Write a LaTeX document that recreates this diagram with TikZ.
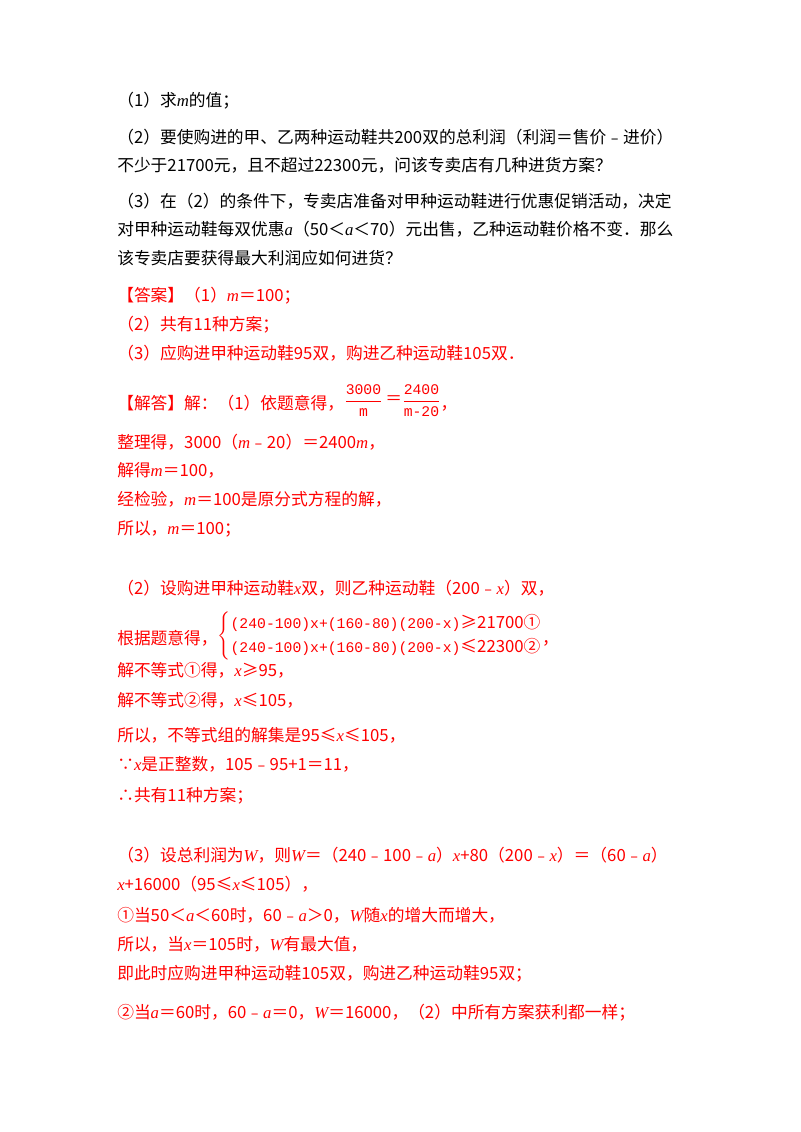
\documentclass[tikz,border=0pt]{standalone}
\usepackage{amsmath}
\usepackage{fontspec}
\setmainfont{Liberation Serif}
\newfontfamily\cjk{Noto Sans CJK SC}
\newfontfamily\mono{Liberation Mono}
\newcommand{\vr}[1]{{\rmfamily\itshape #1}}
\newcommand{\sysfont}{\mono\fontsize{11pt}{13pt}\selectfont}
\definecolor{ansred}{RGB}{255,0,0}
\tikzset{qline/.style={
  anchor=base west,
  inner sep=0pt,
  font=\cjk\fontsize{12.5pt}{14pt}\selectfont,
  black}}
\tikzset{aline/.style={
  qline,
  ansred}}

\begin{document}
\begin{tikzpicture}[x=0.02625cm,y=-0.02625cm]
  \useasboundingbox[fill=white] (0,0) rectangle (800,1132);

  %%%% Question %%%%
  \node[qline] (q1) at (117,106) {（1）求\vr{m}的值；};
  \node[qline] (q2) at (117,143) {（2）要使购进的甲、乙两种运动鞋共200双的总利润（利润＝售价﹣进价）};
  \node[qline] (q2b) at (117,171) {不少于21700元，且不超过22300元，问该专卖店有几种进货方案？};
  \node[qline] (q3) at (117,207) {（3）在（2）的条件下，专卖店准备对甲种运动鞋进行优惠促销活动，决定};
  \node[qline] (q3b) at (117,235) {对甲种运动鞋每双优惠\vr{a}（50＜\vr{a}＜70）元出售，乙种运动鞋价格不变．那么};
  \node[qline] (q3c) at (117,264) {该专卖店要获得最大利润应如何进货？};

  %%%% Answer %%%%
  \node[aline] (a1) at (117,301) {【答案】（1）\vr{m}＝100；};
  \node[aline] (a2) at (117,330) {（2）共有11种方案；};
  \node[aline] (a3) at (117,359) {（3）应购进甲种运动鞋95双，购进乙种运动鞋105双．};

  %%%% Part 1 %%%%
  \node[aline] (s1) at (117,409) {【解答】解：（1）依题意得，\raisebox{3pt}{$\displaystyle\frac{\text{\sysfont 3000}}{\text{\sysfont m}}\,\text{\cjk ＝}\frac{\text{\sysfont 2400}}{\text{\sysfont m-20}}$}，};
  \node[aline] (s2) at (117,448) {整理得，3000（\vr{m}﹣20）＝2400\vr{m}，};
  \node[aline] (s3) at (117,476) {解得\vr{m}＝100，};
  \node[aline] (s4) at (117,505) {经检验，\vr{m}＝100是原分式方程的解，};
  \node[aline] (s5) at (117,534) {所以，\vr{m}＝100；};

  %%%% Part 2 %%%%
  \node[aline] (t1) at (117,594) {（2）设购进甲种运动鞋\vr{x}双，则乙种运动鞋（200﹣\vr{x}）双，};
  \node[aline] (t2) at (117,644) {根据题意得，\raisebox{3pt}{\renewcommand{\arraystretch}{1.25}$\left\{\begin{array}{@{}l@{}}\text{\sysfont (240-100)x+(160-80)(200-x)}\text{\cjk ≥21700①}\\
    \text{\sysfont (240-100)x+(160-80)(200-x)}\text{\cjk ≤22300②}\end{array}\right.$}，};
  \node[aline] (t3) at (117,676) {解不等式①得，\vr{x}≥95，};
  \node[aline] (t4) at (117,706) {解不等式②得，\vr{x}≤105，};
  \node[aline] (t5) at (117,741) {所以，不等式组的解集是95≤\vr{x}≤105，};
  \node[aline] (t6) at (117,770) {∵\vr{x}是正整数，105﹣95+1＝11，};
  \node[aline] (t7) at (117,801) {∴共有11种方案；};

  %%%% Part 3 %%%%
  \node[aline] (u1) at (117,861) {（3）设总利润为\vr{W}，则\vr{W}＝（240﹣100﹣\vr{a}）\vr{x}+80（200﹣\vr{x}）＝（60﹣\vr{a}）};
  \node[aline] (u2) at (117,890) {\vr{x}+16000（95≤\vr{x}≤105），};
  \node[aline] (u3) at (117,921) {①当50＜\vr{a}＜60时，60﹣\vr{a}＞0，\vr{W}随\vr{x}的增大而增大，};
  \node[aline] (u4) at (117,950) {所以，当\vr{x}＝105时，\vr{W}有最大值，};
  \node[aline] (u5) at (117,979) {即此时应购进甲种运动鞋105双，购进乙种运动鞋95双；};
  \node[aline] (u6) at (117,1018) {②当\vr{a}＝60时，60﹣\vr{a}＝0，\vr{W}＝16000，（2）中所有方案获利都一样；};
\end{tikzpicture}
\end{document}
